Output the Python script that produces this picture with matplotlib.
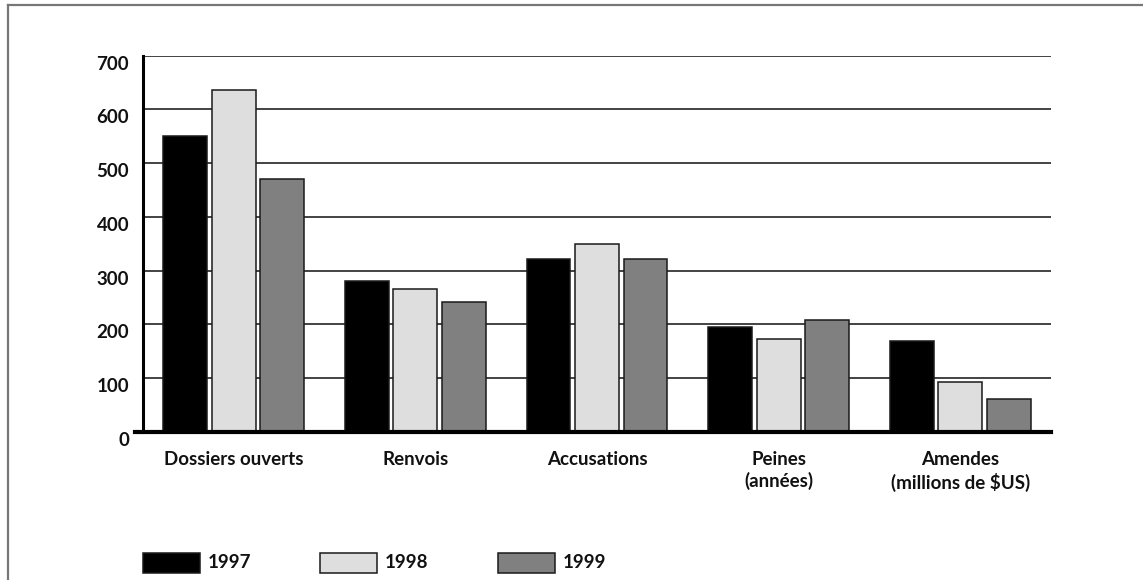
import matplotlib
matplotlib.use("Agg")
import matplotlib.pyplot as plt
import matplotlib.transforms as mtransforms
from matplotlib.lines import Line2D
from matplotlib.patches import Rectangle
import numpy as np

categories = ["Dossiers ouverts", "Renvois", "Accusations", "Peines\n(années)",
              "Amendes\n(millions de $US)"]
years = ["1997", "1998", "1999"]
values_1997 = [550, 280, 322, 196, 170]
values_1998 = [635, 266, 350, 173, 93]
values_1999 = [470, 241, 321, 208, 62]
y_ticks = [0, 100, 200, 300, 400, 500, 600, 700]

series = [values_1997, values_1998, values_1999]
colors = ["#000000", "#dedede", "#808080"]

plt.rcParams["font.family"] = ["Lato", "DejaVu Sans"]

W, H = 1143, 580
FS = 13.5
fig = plt.figure(figsize=(W / 100, H / 100), dpi=100)
ax = fig.add_axes([143 / W, (H - 432) / H, (1051 - 143) / W, (432 - 55.5) / H])

x = np.arange(len(categories))
bar_w = 0.242
step = 0.267
for i, (vals, col) in enumerate(zip(series, colors)):
    ax.bar(x + (i - 1) * step, vals, width=bar_w, color=col,
           edgecolor="#1a1a1a", linewidth=1.1, zorder=3)

ax.set_xlim(-0.5, len(categories) - 0.5)
ax.set_ylim(0, 700)
ax.set_yticks(y_ticks)
ax.set_yticklabels([str(t) for t in y_ticks], fontsize=FS, fontweight="bold",
                   color="#111111")
ax.tick_params(axis="y", length=0, pad=10)
ax.set_xticks(x)
ax.set_xticklabels(categories, fontsize=FS, fontweight="bold", color="#111111",
                   linespacing=1.3)
ax.tick_params(axis="x", length=0, pad=13.5)

# shift the value labels slightly below their gridlines
offset = mtransforms.ScaledTranslation(0, -7 / 100, fig.dpi_scale_trans)
for lbl in ax.get_yticklabels():
    lbl.set_transform(lbl.get_transform() + offset)

ax.yaxis.grid(True, color="#222222", linewidth=1.2, zorder=0)
ax.set_axisbelow(True)
for side in ["top", "right", "bottom"]:
    ax.spines[side].set_visible(False)
ax.spines["left"].set_linewidth(2.2)
ax.spines["left"].set_color("#000000")

# baseline extending a little to the left of the value axis
ax.add_line(Line2D([-8 / 908, 1.0], [0, 0], transform=ax.transAxes, color="#000000",
                   linewidth=3, clip_on=False, zorder=5))

# outer frame (top and left edges)
fig.add_artist(Line2D([7.5 / W, 1.0], [1 - 5 / H, 1 - 5 / H], transform=fig.transFigure,
                      color="#777777", linewidth=1.6))
fig.add_artist(Line2D([7.5 / W, 7.5 / W], [0, 1 - 5 / H], transform=fig.transFigure,
                      color="#777777", linewidth=1.6))

# legend row
legend_x = [143, 320, 498]
for lx, yr, col in zip(legend_x, years, colors):
    fig.add_artist(Rectangle((lx / W, (H - 573) / H), 57 / W, 20 / H,
                             transform=fig.transFigure, facecolor=col,
                             edgecolor="#1a1a1a", linewidth=1.1))
    fig.text((lx + 65) / W, (H - 563) / H, yr, fontsize=FS, fontweight="bold",
             color="#111111", va="center", ha="left")

fig.savefig("out.png", dpi=100, facecolor="white")
